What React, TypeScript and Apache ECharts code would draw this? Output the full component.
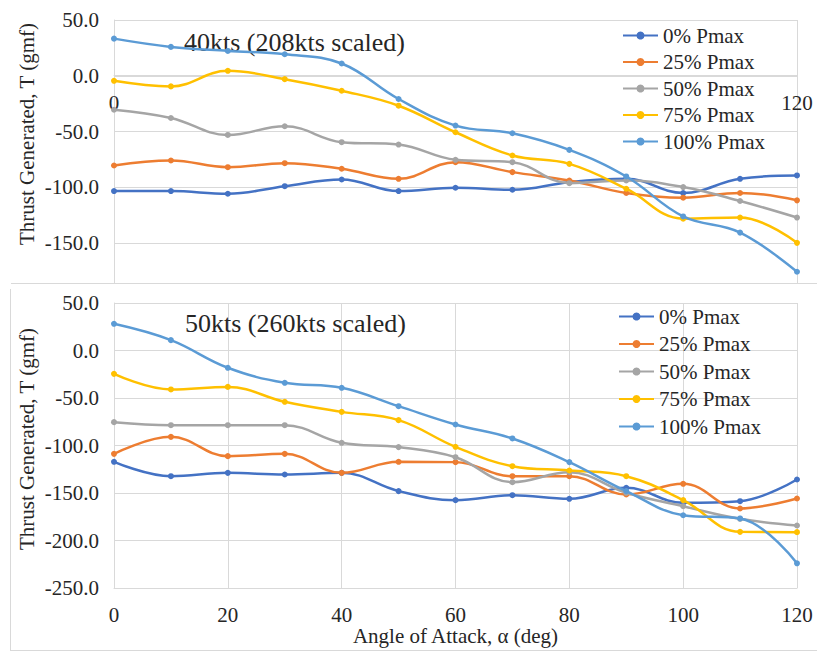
import React, { useEffect, useRef } from "react";
import * as echarts from "echarts";

const angles = [0, 10, 20, 30, 40, 50, 60, 70, 80, 90, 100, 110, 120];
const seriesNames = ["0% Pmax", "25% Pmax", "50% Pmax", "75% Pmax", "100% Pmax"];
const colors = ["#4472C4", "#ED7D31", "#A5A5A5", "#FFC000", "#5B9BD5"];

// 40kts (208kts scaled)
const top0 = [-103.3, -103.3, -105.7, -98.9, -92.9, -103.3, -100.3, -102.1, -95.3, -92.3, -105, -92.3, -89.3];
const top25 = [-80.4, -75.9, -81.9, -78.3, -83.3, -92.3, -77.4, -86.3, -93.8, -105, -109.2, -105, -111.6];
const top50 = [-30.4, -37.8, -53, -45.2, -59.5, -61.6, -75.3, -77.4, -96.2, -93.8, -99.7, -112.2, -127];
const top75 = [-4.5, -9.5, 4.5, -3, -13.4, -26.8, -50.6, -71.4, -78.9, -101.2, -128, -127, -149.7];
const top100 = [33.3, 25.9, 22.3, 19.3, 11, -20.8, -44.6, -51.5, -66.4, -90.2, -126, -140.5, -175.6];

// 50kts (260kts scaled)
const bot0 = [-117.2, -132.3, -128.8, -130.5, -128.8, -148, -157.5, -152.3, -156.1, -144.5, -160.3, -158.6, -135.8];
const bot25 = [-108.8, -90.9, -111.2, -108.8, -128.8, -117.2, -117.5, -132.3, -132.3, -151.6, -140.3, -166.3, -155.8];
const bot50 = [-75.4, -78.6, -78.6, -78.6, -97.2, -101.7, -112.3, -138.6, -128.1, -149.8, -163.9, -177.2, -184.2];
const bot75 = [-24.6, -41, -38.3, -54, -64.6, -73.3, -101.4, -121.8, -126.3, -132.3, -157.5, -190.9, -191.2];
const bot100 = [28.1, 10.9, -18.2, -34, -39.3, -58.6, -77.9, -92.6, -117.5, -148, -173.4, -176.8, -224];

const topTitle = "40kts (208kts scaled)";
const botTitle = "50kts (260kts scaled)";
const yName = "Thrust Generated, T (gmf)";
const xName = "Angle of Attack, α (deg)";

const FONT = "Liberation Serif";
const TEXT = "#262626";
const GRID = "#d9d9d9";

export default function App() {
  const ref = useRef<HTMLDivElement>(null);
  useEffect(() => {
    if (!ref.current) return;
    const chart = echarts.init(ref.current, undefined, { renderer: "svg" });
    const topSets = [top0, top25, top50, top75, top100];
    const botSets = [bot0, bot25, bot50, bot75, bot100];
    const mk = (vals: number[], i: number, gi: number) => ({
      type: "line",
      name: seriesNames[i],
      xAxisIndex: gi,
      yAxisIndex: gi,
      data: angles.map((a, k) => [a, vals[k]]),
      smooth: 0.4,
      symbol: "circle",
      symbolSize: 6,
      lineStyle: { width: 2.5, color: colors[i] },
      itemStyle: { color: colors[i] },
      z: 2 + i,
    });
    const legendBase = {
      orient: "vertical",
      itemWidth: 35,
      itemHeight: 10,
      data: seriesNames,
      textStyle: { fontFamily: FONT, fontSize: 21, color: TEXT, lineHeight: 20 },
      selectedMode: false,
    };
    chart.setOption({
      animation: false,
      backgroundColor: "#ffffff",
      textStyle: { fontFamily: FONT },
      title: [
        { text: topTitle, left: 184, top: 29, padding: 0, textStyle: { fontFamily: FONT, fontSize: 26, fontWeight: "normal", color: TEXT } },
        { text: botTitle, left: 185, top: 310, padding: 0, textStyle: { fontFamily: FONT, fontSize: 26, fontWeight: "normal", color: TEXT } },
      ],
      legend: [
        { ...legendBase, left: 617, top: 20, itemGap: 5.5 },
        { ...legendBase, left: 613, top: 301, itemGap: 6.5 },
      ],
      grid: [
        { left: 114, top: 20, width: 683, height: 279 },
        { left: 114, top: 303, width: 683, height: 285 },
      ],
      xAxis: [
        {
          type: "value", gridIndex: 0, min: 0, max: 120, interval: 120,
          position: "bottom", offset: -224,
          axisLine: { show: true, onZero: false, lineStyle: { color: GRID } },
          axisTick: { show: false },
          splitLine: { show: true, lineStyle: { color: GRID } },
          axisLabel: { color: TEXT, fontFamily: FONT, fontSize: 21, margin: 17 },
        },
        {
          type: "value", gridIndex: 1, min: 0, max: 120, interval: 20,
          axisLine: { show: true, onZero: false, lineStyle: { color: GRID } },
          axisTick: { show: false },
          splitLine: { show: true, lineStyle: { color: GRID } },
          axisLabel: { color: TEXT, fontFamily: FONT, fontSize: 21, margin: 16 },
          name: xName, nameLocation: "middle", nameGap: 37,
          nameTextStyle: { color: TEXT, fontFamily: FONT, fontSize: 21 },
        },
      ],
      yAxis: [
        {
          type: "value", gridIndex: 0, min: -200, max: 50, interval: 50,
          axisLine: { show: true, lineStyle: { color: GRID } },
          axisTick: { show: false },
          splitLine: { show: true, lineStyle: { color: GRID } },
          axisLabel: {
            color: TEXT, fontFamily: FONT, fontSize: 21, margin: 15,
            formatter: (v: number) => (v <= -200 ? "" : v.toFixed(1)),
          },
        },
        {
          type: "value", gridIndex: 1, min: -250, max: 50, interval: 50,
          axisLine: { show: true, lineStyle: { color: GRID } },
          axisTick: { show: false },
          splitLine: { show: true, lineStyle: { color: GRID } },
          axisLabel: { color: TEXT, fontFamily: FONT, fontSize: 21, margin: 15, formatter: (v: number) => v.toFixed(1) },
        },
      ],
      graphic: [
        { type: "rect", z: 100, shape: { x: 100, y: 284, width: 717, height: 16 }, style: { fill: "#ffffff" } },
        { type: "line", z: 101, shape: { x1: 11, y1: 283.5, x2: 817, y2: 283.5 }, style: { stroke: GRID, lineWidth: 1 } },
        { type: "line", z: 101, shape: { x1: 10.5, y1: 289, x2: 10.5, y2: 650 }, style: { stroke: GRID, lineWidth: 1 } },
        { type: "line", z: 101, shape: { x1: 10, y1: 650.5, x2: 817, y2: 650.5 }, style: { stroke: GRID, lineWidth: 1 } },
        {
          type: "text", z: 101, x: 27, y: 134, rotation: Math.PI / 2,
          style: { text: yName, fill: TEXT, fontFamily: FONT, fontSize: 21, textAlign: "center", textVerticalAlign: "middle" },
        },
        {
          type: "text", z: 101, x: 27, y: 439, rotation: Math.PI / 2,
          style: { text: yName, fill: TEXT, fontFamily: FONT, fontSize: 21, textAlign: "center", textVerticalAlign: "middle" },
        },
      ],
      series: [
        ...topSets.map((s, i) => mk(s, i, 0)),
        ...botSets.map((s, i) => mk(s, i, 1)),
      ],
    });
    return () => chart.dispose();
  }, []);
  return <div ref={ref} style={{ position: "fixed", left: 0, top: 0, width: 817, height: 656 }} />;
}
